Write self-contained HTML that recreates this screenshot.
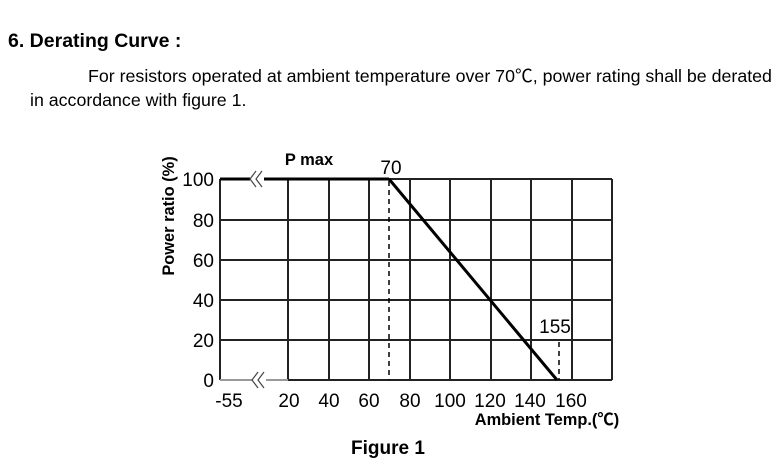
<!DOCTYPE html>
<html><head><meta charset="utf-8"><style>
body{margin:0;width:775px;height:463px;background:#fff;overflow:hidden;font-family:"Liberation Sans","Noto Sans CJK SC",sans-serif;color:#000}
</style></head><body>
<svg width="775" height="463" viewBox="0 0 775 463" xmlns="http://www.w3.org/2000/svg" font-family="Liberation Sans, Noto Sans CJK SC, sans-serif">
<text x="8" y="47" font-size="19.5" font-weight="bold">6.  Derating Curve :</text>
<text x="88" y="82" font-size="17.8">For resistors operated at ambient temperature over 70℃, power rating shall be derated</text>
<text x="30" y="106" font-size="17.8">in accordance with figure 1.</text>
<g stroke="#222" stroke-width="2">
<line x1="220" y1="220" x2="612" y2="220"/><line x1="220" y1="260" x2="612" y2="260"/>
<line x1="220" y1="300" x2="612" y2="300"/><line x1="220" y1="340" x2="612" y2="340"/>
<line x1="288" y1="179" x2="612" y2="179"/>
<line x1="220" y1="179" x2="220" y2="380"/>
<line x1="288" y1="179" x2="288" y2="380"/><line x1="329" y1="179" x2="329" y2="380"/>
<line x1="369" y1="179" x2="369" y2="380"/><line x1="410" y1="179" x2="410" y2="380"/>
<line x1="450" y1="179" x2="450" y2="380"/><line x1="491" y1="179" x2="491" y2="380"/>
<line x1="531" y1="179" x2="531" y2="380"/><line x1="572" y1="179" x2="572" y2="380"/>
<line x1="612" y1="179" x2="612" y2="380"/>
<line x1="288" y1="380" x2="612" y2="380"/>
</g>
<line x1="220" y1="380" x2="288" y2="380" stroke="#999" stroke-width="2"/>
<line x1="220" y1="179" x2="389" y2="179" stroke="#000" stroke-width="3"/>
<line x1="389" y1="179" x2="557" y2="380" stroke="#000" stroke-width="3"/>
<line x1="389" y1="181" x2="389" y2="380" stroke="#000" stroke-width="1.5" stroke-dasharray="5,4"/>
<line x1="559" y1="342" x2="559" y2="380" stroke="#000" stroke-width="1.5" stroke-dasharray="5,4"/>
<rect x="250" y="170" width="14" height="18" fill="#fff"/>
<rect x="252" y="371" width="14" height="18" fill="#fff"/>
<g fill="none" stroke="#444" stroke-width="1.2">
<path d="M256 171 L250 179 L256 187"/><path d="M262 171 L256 179 L262 187"/>
<path d="M258 372 L252 380 L258 388"/><path d="M264 372 L258 380 L264 388"/>
</g>
<g font-size="19" text-anchor="end">
<text x="214" y="186">100</text><text x="214" y="227">80</text><text x="214" y="267">60</text>
<text x="214" y="307">40</text><text x="214" y="347">20</text><text x="214" y="387">0</text>
</g>
<g font-size="19" text-anchor="middle">
<text x="229" y="407">-55</text><text x="289" y="407">20</text><text x="329" y="407">40</text>
<text x="369" y="407">60</text><text x="410" y="407">80</text><text x="450" y="407">100</text>
<text x="490" y="407">120</text><text x="530" y="407">140</text><text x="571" y="407">160</text>
<text x="391" y="174">70</text><text x="555" y="333">155</text>
</g>
<text x="309" y="165" font-size="16.5" font-weight="bold" text-anchor="middle">P max</text>
<text x="547" y="425" font-size="16.4" font-weight="bold" text-anchor="middle">Ambient Temp.(℃)</text>
<text x="388" y="454" font-size="19" font-weight="bold" text-anchor="middle">Figure 1</text>
<text transform="translate(174,216) rotate(-90)" font-size="16.4" font-weight="bold" text-anchor="middle">Power ratio (%)</text>
</svg>
</body></html>
